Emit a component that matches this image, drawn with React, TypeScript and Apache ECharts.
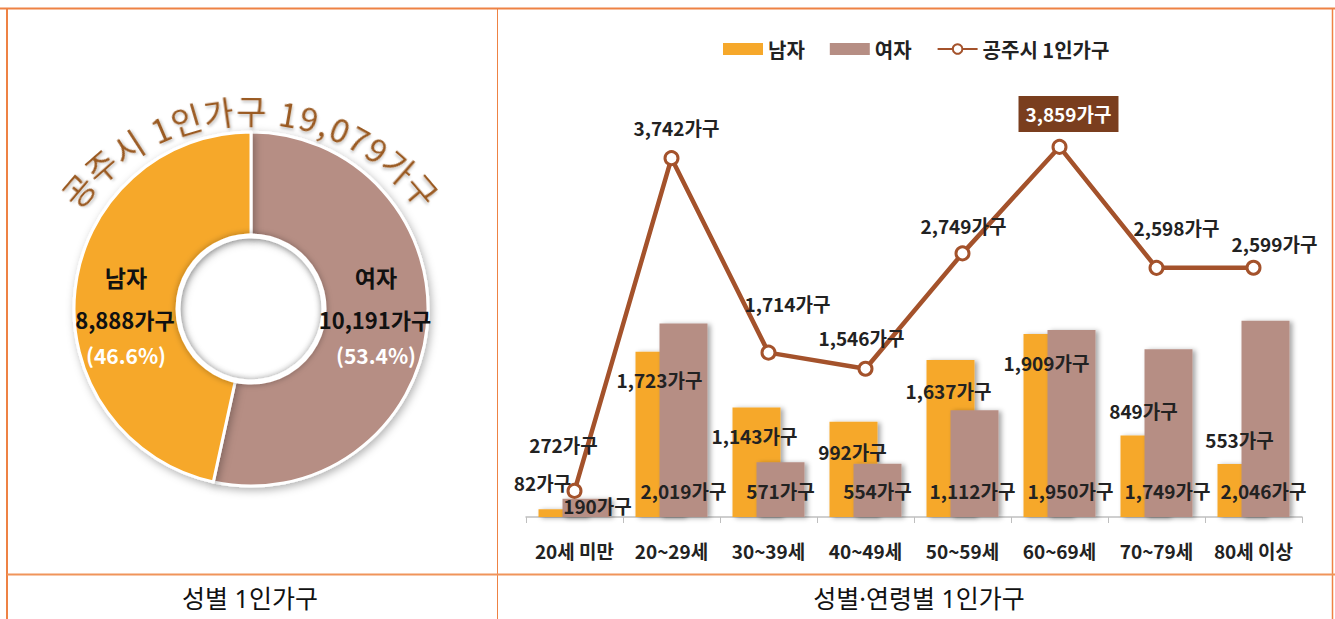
import React, { useEffect, useRef } from 'react';
import * as echarts from 'echarts';

// ---------- data ----------
const genderNames = ['남자', '여자'];
const genderValues = [8888, 10191];

const ageCategories = ['20세 미만', '20~29세', '30~39세', '40~49세', '50~59세', '60~69세', '70~79세', '80세 이상'];
const maleValues = [82, 1723, 1143, 992, 1637, 1909, 849, 553];
const femaleValues = [190, 2019, 571, 554, 1112, 1950, 1749, 2046];
const totalValues = [272, 3742, 1714, 1546, 2749, 3859, 2598, 2599];
const lineName = '공주시 1인가구';
const cityLabel = '공주시 1인가구';
const unit = '가구';
const panelTitles = ['성별 1인가구', '성별·연령별 1인가구'];

// ---------- label layout (offsets only) ----------
const maleLabelOffsets = [[-20, -38], [0, 17], [-2, 17], [-1, 19], [-2, 19], [-1, 18], [-1, -36], [-2, -35]];
const femaleLabelOffsets = [[11, -1], [0, -16], [0, -16], [0, -16], [-2, -16], [-1, -16], [-1, -16], [-2, -16]];
const totalLabelOffsets = [[-11, -46], [5, -31], [19, -49], [-4, -31], [1, -28], [9, -33], [20, -40], [21, -24]];

// ---------- styles ----------
const FONT = "'Noto Sans CJK KR', 'Noto Sans', sans-serif";
const TITLE_FONT = "'Noto Sans', 'Noto Sans CJK KR', sans-serif";
const ORANGE = '#F6A82B';
const MAUVE = '#B68E84';
const LINE = '#A4522B';
const FRAME = '#EE8244';
const ARC = '#9A5A22';

const fmt = (v: number) => v.toLocaleString('en-US') + unit;

export default function App() {
  const ref = useRef<HTMLDivElement>(null);

  useEffect(() => {
    if (!ref.current) return;
    const chart = echarts.init(ref.current, undefined, { renderer: 'svg' });

    const total = genderValues.reduce((a, b) => a + b, 0);
    const maxIdx = totalValues.indexOf(Math.max(...totalValues));

    // donut geometry
    const pc = [251, 309];

    // arc title
    const arcTitle = `${cityLabel} ${total.toLocaleString('en-US')}${unit}`;
    const arcFont = 33;
    const arcCx = 250, arcCy = 336, arcR = 226;
    const chars = Array.from(arcTitle);
    const cv = document.createElement('canvas').getContext('2d')!;
    cv.font = `${arcFont}px "Noto Sans CJK KR"`;
    const ws = chars.map((c) => cv.measureText(c).width);
    const centers: number[] = [];
    let acc = 0;
    ws.forEach((w) => { centers.push(acc + w / 2); acc += w; });
    const natural = centers[centers.length - 1] - centers[0];
    const targetSpan = arcR * (2 * 49.7 * Math.PI / 180);
    const extra = (targetSpan - natural) / (chars.length - 1);
    const arcEls = chars.map((ch, i) => {
      const s = centers[i] - centers[0] + i * extra - targetSpan / 2;
      const th = s / arcR;
      return {
        type: 'text',
        x: arcCx + arcR * Math.sin(th),
        y: arcCy - arcR * Math.cos(th),
        rotation: -th,
        z: 100,
        silent: true,
        style: {
          text: ch,
          fill: ARC,
          fontSize: arcFont,
          fontFamily: FONT,
          align: 'center',
          verticalAlign: 'middle',
          textShadowBlur: 3,
          textShadowColor: 'rgba(0,0,0,0.25)',
          textShadowOffsetX: 1,
          textShadowOffsetY: 2,
        },
      };
    });

    // donut labels
    const donutLabelPos = [
      { x: 126, y: [277, 319, 355] },
      { x: 376, y: [277, 319, 355] },
    ];
    const donutLabels: any[] = [];
    genderNames.forEach((n, i) => {
      const p = donutLabelPos[i];
      const pct = ((genderValues[i] / total) * 100).toFixed(1);
      donutLabels.push(
        { type: 'text', x: p.x, y: p.y[0], z: 100, silent: true, style: { text: n, fill: '#111', fontSize: 23, fontWeight: 'bold', fontFamily: FONT, align: 'center', verticalAlign: 'middle' } },
        { type: 'text', x: p.x - 1, y: p.y[1], z: 100, silent: true, style: { text: fmt(genderValues[i]), fill: '#111', fontSize: 22, fontWeight: 'bold', fontFamily: FONT, align: 'center', verticalAlign: 'middle' } },
        { type: 'text', x: p.x, y: p.y[2], z: 100, silent: true, style: { text: `(${pct}%)`, fill: '#fff', fontSize: 21, fontWeight: 'bold', fontFamily: FONT, align: 'center', verticalAlign: 'middle' } },
      );
    });

    const frame = (x1: number, y1: number, x2: number, y2: number, w: number, c = FRAME) => ({
      type: 'line', z: 100, silent: true,
      shape: { x1, y1, x2, y2 },
      style: { stroke: c, lineWidth: w },
    });

    const labelBase = {
      show: true,
      fontSize: 19,
      fontWeight: 'bold',
      color: '#222',
      fontFamily: FONT,
      lineHeight: 22,
      textBorderWidth: 0,
      formatter: (p: any) => fmt(p.value),
    };

    const barShadow = {
      shadowBlur: 5,
      shadowColor: 'rgba(0,0,0,0.35)',
      shadowOffsetX: 3,
      shadowOffsetY: 1,
    };

    chart.setOption({
      animation: false,
      textStyle: { fontFamily: FONT },
      legend: {
        left: 718,
        top: 34,
        itemWidth: 40,
        itemHeight: 12,
        itemGap: 25,
        selectedMode: false,
        data: [
          { name: genderNames[0], icon: 'rect' },
          { name: genderNames[1], icon: 'rect' },
          { name: lineName },
        ],
        textStyle: { fontSize: 20, fontWeight: 'bold', color: '#222', fontFamily: FONT },
      },
      grid: { left: 526, right: 33, top: 133.4, bottom: 102 },
      xAxis: {
        type: 'category',
        data: ageCategories,
        axisLine: { lineStyle: { color: '#BFBFBF', width: 1.5 } },
        axisTick: { show: true, length: 6, lineStyle: { color: '#BFBFBF' } },
        axisLabel: { interval: 0, margin: 24, fontSize: 19, fontWeight: 'bold', color: '#222', fontFamily: FONT },
      },
      yAxis: { type: 'value', min: 0, max: 4000, show: false },
      series: [
        {
          type: 'pie',
          center: pc,
          radius: [73, 177],
          startAngle: 90,
          clockwise: true,
          silent: true,
          label: { show: false },
          labelLine: { show: false },
          emphasis: { disabled: true },
          itemStyle: {
            borderColor: '#fff',
            borderWidth: 3,
            shadowBlur: 8,
            shadowColor: 'rgba(0,0,0,0.3)',
            shadowOffsetX: 2,
            shadowOffsetY: 3,
          },
          data: [1, 0].map((i) => ({
            name: genderNames[i],
            value: genderValues[i],
            itemStyle: { color: i === 0 ? ORANGE : MAUVE },
          })),
          z: 1,
        },
        {
          type: 'bar',
          name: genderNames[0],
          barWidth: 48,
          barGap: '-50%',
          itemStyle: { color: ORANGE, ...barShadow },
          label: { ...labelBase, position: 'insideTop', distance: 0 },
          data: maleValues.map((v, i) => ({ value: v, label: { offset: maleLabelOffsets[i] } })),
          z: 2,
        },
        {
          type: 'bar',
          name: genderNames[1],
          barWidth: 48,
          barGap: '-50%',
          itemStyle: { color: MAUVE, ...barShadow },
          label: { ...labelBase, position: 'insideBottom', distance: 0 },
          data: femaleValues.map((v, i) => ({ value: v, label: { offset: femaleLabelOffsets[i] } })),
          z: 2,
        },
        {
          type: 'line',
          name: lineName,
          symbol: 'circle',
          symbolSize: 13,
          itemStyle: { color: '#fff', borderColor: LINE, borderWidth: 3 },
          lineStyle: { color: LINE, width: 4.5 },
          label: { ...labelBase, position: 'inside' },
          data: totalValues.map((v, i) => ({
            value: v,
            label: i === maxIdx
              ? { offset: totalLabelOffsets[i], backgroundColor: '#7A3E1E', color: '#fff', padding: [7, 7] }
              : { offset: totalLabelOffsets[i] },
          })),
          z: 3,
        },
      ],
      graphic: {
        elements: [
          frame(0, 8.5, 1335, 8.5, 2),
          frame(7, 8, 7, 619, 2),
          frame(497.5, 8, 497.5, 619, 1),
          frame(1332.5, 8, 1332.5, 619, 1.5),
          frame(7, 574.5, 1335, 574.5, 2, '#F0945A'),
          {
            type: 'circle', z: 100, silent: true,
            shape: { cx: pc[0], cy: pc[1], r: 73 },
            style: { fill: 'none', stroke: '#fff', lineWidth: 5, shadowBlur: 6, shadowColor: 'rgba(0,0,0,0.35)' },
          },
          ...donutLabels,
          ...arcEls,
          { type: 'text', x: 250, y: 598, z: 100, silent: true, style: { text: panelTitles[0], fill: '#111', fontSize: 25, fontFamily: TITLE_FONT, align: 'center', verticalAlign: 'middle' } },
          { type: 'text', x: 919, y: 598, z: 100, silent: true, style: { text: panelTitles[1], fill: '#111', fontSize: 25, fontFamily: TITLE_FONT, align: 'center', verticalAlign: 'middle' } },
        ],
      },
    });

    return () => chart.dispose();
  }, []);

  return (
    <div
      ref={ref}
      style={{ position: 'absolute', left: 0, top: 0, width: 1335, height: 619, background: '#fff' }}
    />
  );
}
